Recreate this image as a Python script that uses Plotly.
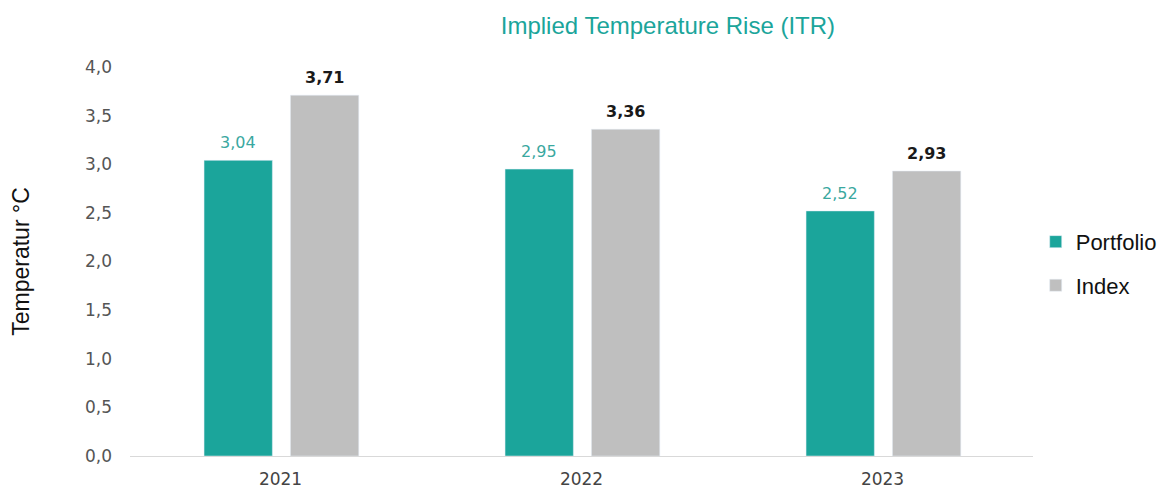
import plotly.graph_objects as go

years = ["2021", "2022", "2023"]
portfolio = [3.04, 2.95, 2.52]
index_vals = [3.71, 3.36, 2.93]
ytick_vals = [0, 0.5, 1, 1.5, 2, 2.5, 3, 3.5, 4]
ytick_text = ["0,0", "0,5", "1,0", "1,5", "2,0", "2,5", "3,0", "3,5", "4,0"]

def fmt(v):
    return f"{v:.2f}".replace(".", ",")

teal = "#1BA59B"
grey = "#BFBFBF"
BAR_W = 0.227
OFF_P = -0.254
OFF_I = 0.033

fig = go.Figure()
fig.add_trace(go.Bar(
    x=years, y=portfolio, name="Portfolio", marker_color=teal,
    width=BAR_W, offset=OFF_P, legendgroup="a",
))
fig.add_trace(go.Bar(
    x=years, y=index_vals, name="Index", marker_color=grey,
    width=BAR_W, offset=OFF_I, legendgroup="b",
))

# value labels
for i, (p, q) in enumerate(zip(portfolio, index_vals)):
    fig.add_annotation(x=i + OFF_P + BAR_W / 2, y=p, text=fmt(p), showarrow=False,
                       yanchor="bottom", yshift=6,
                       font=dict(family="DejaVu Sans", size=16, color="#3AA89F"))
    fig.add_annotation(x=i + OFF_I + BAR_W / 2, y=q, text=f"<b>{fmt(q)}</b>", showarrow=False,
                       yanchor="bottom", yshift=6,
                       font=dict(family="DejaVu Sans", size=16, color="#1A1A1A"))

fig.update_layout(
    width=1166, height=493,
    margin=dict(l=122, r=140, t=59, b=43),
    paper_bgcolor="white", plot_bgcolor="white",
    title=dict(text="Implied Temperature Rise (ITR)", x=0.566, xanchor="center",
               y=1 - 18 / 493, yanchor="middle",
               font=dict(family="Liberation Sans, Arial", size=24, color="#1BA59B")),
    showlegend=True,
    legend=dict(x=1.003, y=0.494, xanchor="left", yanchor="middle",
                font=dict(family="Liberation Sans, Arial", size=22, color="#111111"),
                tracegroupgap=12, traceorder="grouped", itemwidth=30),
    xaxis=dict(showgrid=False, showline=True, linecolor="#D9D9D9", linewidth=1,
               ticks="", ticklabelstandoff=8,
               tickfont=dict(family="DejaVu Sans", size=17, color="#444444")),
    yaxis=dict(range=[0, 4], tickvals=ytick_vals, ticktext=ytick_text,
               showgrid=False, zeroline=False, showline=False, ticks="",
               ticklabelstandoff=17, automargin=False,
               tickfont=dict(family="DejaVu Sans", size=17, color="#555555"),
               title=dict(text="Temperatur °C", standoff=48,
                          font=dict(family="Liberation Sans, Arial", size=23, color="#111111"))),
)

fig.write_html("out.html")
